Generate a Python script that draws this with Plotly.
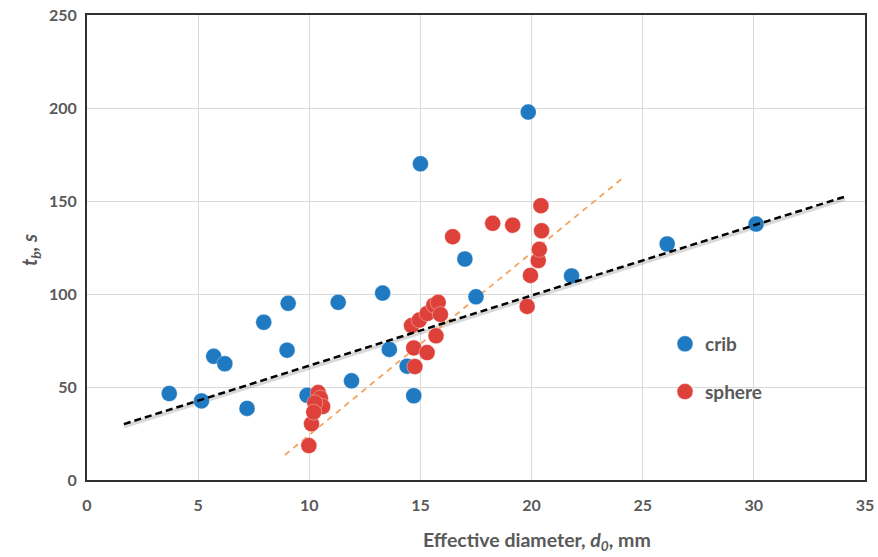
import plotly.graph_objects as go

# crib data
crib_d = [3.7, 5.15, 5.7, 6.2, 7.2, 7.95, 9.0, 9.05, 9.9, 11.3, 11.9, 13.3, 13.6,
          14.4, 14.7, 15.0, 17.0, 17.5, 19.85, 21.8, 26.1, 30.1]
crib_t = [46.5, 42.5, 66.5, 62.5, 38.5, 84.8, 69.8, 95.0, 45.5, 95.5, 53.3, 100.5, 70.2,
          61.2, 45.3, 170.0, 118.8, 98.5, 197.8, 109.7, 126.9, 137.6]

# sphere data
sphere_d = [9.98, 10.1, 10.4, 10.5, 10.6, 10.25, 10.2, 14.75, 14.7, 15.3, 15.7, 14.6,
            14.95, 15.3, 15.6, 15.8, 15.9, 16.45, 18.25, 19.15, 19.8, 19.95, 20.3,
            20.35, 20.45, 20.42]
sphere_t = [18.5, 30.2, 47.0, 44.0, 39.5, 41.5, 36.5, 61.0, 71.0, 68.5, 77.5, 83.0,
            86.0, 89.5, 94.0, 95.5, 89.0, 130.8, 138.0, 137.0, 93.3, 110.0, 118.0,
            124.0, 134.0, 147.5]

# trend lines (slope, intercept, x-range)
crib_fit = (3.77, 23.8)
crib_fit_x = [1.66, 34.1]
sphere_fit = (9.8, -73.8)
sphere_fit_x = [8.9, 24.1]

x_ticks = [0, 5, 10, 15, 20, 25, 30, 35]
y_ticks = [0, 50, 100, 150, 200, 250]

BLUE = "rgb(31,122,193)"
RED = "rgb(222,64,58)"
GREY = "#595959"
FONT = "Lato"

fig = go.Figure()

cx = crib_fit_x
cy = [crib_fit[0] * v + crib_fit[1] for v in cx]
sx = sphere_fit_x
sy = [sphere_fit[0] * v + sphere_fit[1] for v in sx]

fig.add_trace(go.Scatter(x=cx, y=[v - 1.2 for v in cy], mode="lines",
                         line=dict(color="rgba(0,0,0,0.15)", width=4),
                         showlegend=False, hoverinfo="skip"))
fig.add_trace(go.Scatter(x=sx, y=sy, mode="lines",
                         line=dict(color="rgb(244,164,96)", width=1.8, dash="6px,5px"),
                         showlegend=False, hoverinfo="skip"))

fig.add_trace(go.Scatter(x=crib_d, y=crib_t, mode="markers", name="crib",
                         legendgroup="a",
                         marker=dict(color=BLUE, size=16,
                                     line=dict(color="rgba(255,255,255,0.35)", width=1))))
fig.add_trace(go.Scatter(x=sphere_d, y=sphere_t, mode="markers", name="sphere",
                         legendgroup="b",
                         marker=dict(color=RED, size=16,
                                     line=dict(color="rgba(255,255,255,0.35)", width=1))))

fig.add_trace(go.Scatter(x=cx, y=cy, mode="lines",
                         line=dict(color="black", width=2.5, dash="7px,4px"),
                         showlegend=False, hoverinfo="skip"))

W, H = 878 - 87 - 13, 557 - 15 - 77

fig.update_layout(
    width=878, height=557,
    margin=dict(l=87, r=13, t=15, b=77, autoexpand=False),
    paper_bgcolor="white", plot_bgcolor="white",
    font=dict(family=FONT, color=GREY, size=15),
    legend=dict(x=(665 - 87) / W, y=(480 - 325) / H, xanchor="left", yanchor="top",
                bgcolor="rgba(0,0,0,0)", tracegroupgap=20, itemwidth=30,
                font=dict(size=19, color=GREY, family=FONT, weight="bold"),
                itemsizing="trace"),
    xaxis=dict(range=[0, 35], tickvals=x_ticks, showgrid=True, gridcolor="#d9d9d9",
               gridwidth=1, zeroline=False, showline=True, linecolor="#303030",
               linewidth=2, mirror=True, ticks="", automargin=False,
               ticklabelstandoff=10,
               tickfont=dict(size=16, color=GREY, family=FONT, weight="bold")),
    yaxis=dict(range=[0, 250], tickvals=y_ticks, showgrid=True, gridcolor="#d9d9d9",
               gridwidth=1, zeroline=False, showline=True, linecolor="#303030",
               linewidth=2, mirror=True, ticks="", ticklabelstandoff=5,
               automargin=False,
               tickfont=dict(size=16, color=GREY, family=FONT, weight="bold")),
    annotations=[
        dict(text="<b>Effective diameter, <i>d<sub>0</sub></i>, mm</b>",
             x=(537 - 87) / W, y=-(541 - 480) / H, xref="paper", yref="paper",
             xanchor="center", yanchor="middle", showarrow=False,
             font=dict(size=19.5, color=GREY, family=FONT)),
        dict(text="<b><i>t<sub>b</sub>, s</i></b>", textangle=-90,
             x=-(87 - 30) / W, y=(480 - 250) / H, xref="paper", yref="paper",
             xanchor="center", yanchor="middle", showarrow=False,
             font=dict(size=20, color=GREY, family=FONT)),
    ],
)

fig.write_html("out.html", config={"displayModeBar": False},
               post_script="document.body.style.margin='0';document.body.style.overflow='hidden';")
